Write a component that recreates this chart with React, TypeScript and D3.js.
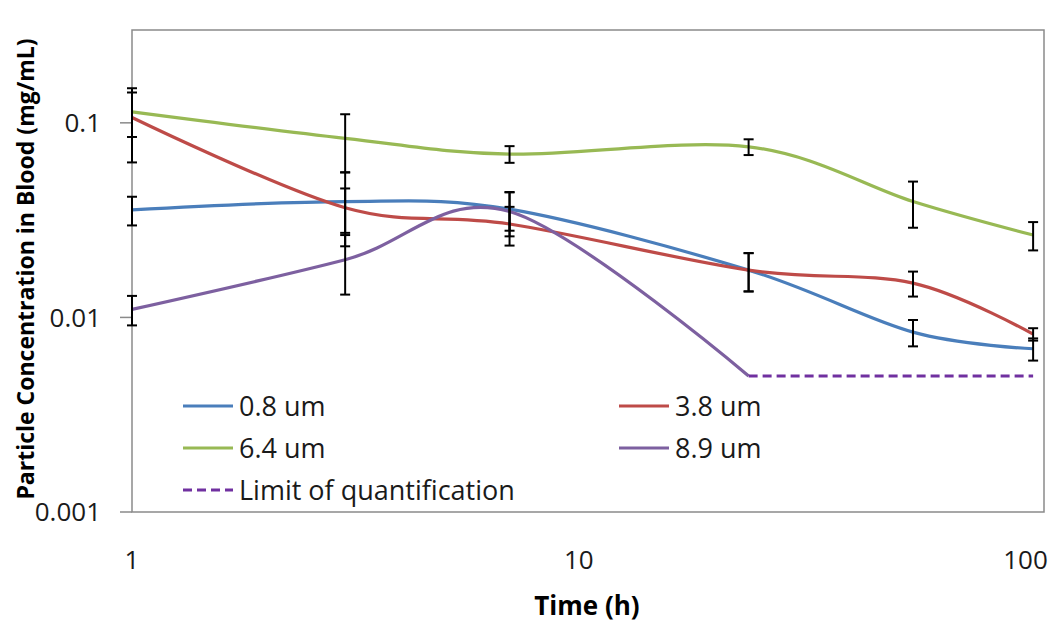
import * as d3 from "d3"

const times = [1, 3, 7, 24, 56, 104]
const purpleTimes = [1, 3, 7, 24]
const loqTimes = [24, 104]

const um08 = [0.0357, 0.0394, 0.036, 0.0175, 0.0084, 0.0069]
const um08Err = [0.006, 0.0162, 0.0081, 0.0039, 0.0013, 0.0009]
const um38 = [0.1066, 0.0366, 0.0302, 0.0175, 0.015, 0.0082]
const um38Err = [0.044, 0.0094, 0.0068, 0.0039, 0.0022, 0.0006]
const um64 = [0.1139, 0.0832, 0.0691, 0.0753, 0.0394, 0.0265]
const um64Err = [0.0293, 0.0275, 0.0068, 0.007, 0.0105, 0.0044]
const um89 = [0.011, 0.0198, 0.035, 0.005]
const um89Err = [0.0019, 0.0067, 0.0089, 0]
const loq = [0.005, 0.005]

const yTicks = [0.1, 0.01, 0.001]
const xTicks = [1, 10, 100]

const W = 1051
const H = 625
const left = 132
const right = 1044
const top = 30
const bottom = 512

const font = "'Open Sans', Lato, sans-serif"

const series = [
  { name: "0.8 um", color: "#4A7EBB", t: times, v: um08, e: um08Err },
  { name: "3.8 um", color: "#BE4B48", t: times, v: um38, e: um38Err },
  { name: "6.4 um", color: "#98B954", t: times, v: um64, e: um64Err },
  { name: "8.9 um", color: "#7D60A0", t: purpleTimes, v: um89, e: um89Err },
]

// legend: two columns, like the Excel one
const legend = [
  { name: "0.8 um", color: "#4A7EBB", col: 0, row: 0, dash: false },
  { name: "3.8 um", color: "#BE4B48", col: 1, row: 0, dash: false },
  { name: "6.4 um", color: "#98B954", col: 0, row: 1, dash: false },
  { name: "8.9 um", color: "#7D60A0", col: 1, row: 1, dash: false },
  { name: "Limit of quantification", color: "#7030A0", col: 0, row: 2, dash: true },
]

export default function App() {
  const x = d3.scaleLog().domain([1, 110]).range([left, right])
  const y = d3.scaleLog().domain([0.001, 0.3]).range([bottom, top])

  const smooth = d3
    .line<[number, number]>()
    .x((d) => x(d[0]))
    .y((d) => y(d[1]))
    .curve(d3.curveCardinal.tension(0))

  const straight = d3
    .line<[number, number]>()
    .x((d) => x(d[0]))
    .y((d) => y(d[1]))

  return (
    <svg
      width={W}
      height={H}
      style={{ position: "absolute", left: 0, top: 0, background: "#fff" }}
      fontFamily={font}
    >
      <rect x={0} y={0} width={W} height={H} fill="#fff" />

      {/* plot frame */}
      <rect
        x={left}
        y={top}
        width={right - left}
        height={bottom - top}
        fill="none"
        stroke="#8a8a8a"
        strokeWidth={1.5}
      />

      {/* y axis ticks */}
      {yTicks.map((t) => (
        <g key={t}>
          <line x1={120} x2={left} y1={y(t)} y2={y(t)} stroke="#8a8a8a" strokeWidth={1.5} />
          <text x={101} y={y(t)} dy="0.36em" textAnchor="end" fontSize={26} fill="#1a1a1a">
            {t}
          </text>
        </g>
      ))}

      {/* x axis labels */}
      {xTicks.map((t) => (
        <text key={t} x={x(t)} y={560} dy="0.36em" textAnchor="middle" fontSize={26} fill="#1a1a1a">
          {t}
        </text>
      ))}

      <text x={587} y={615} textAnchor="middle" fontSize={26} fontWeight="bold" fill="#000">
        Time (h)
      </text>
      <text
        transform={`translate(34,${(top + bottom) / 2 - 2}) rotate(-90)`}
        textAnchor="middle"
        fontSize={23}
        fontWeight="bold"
        fill="#000"
      >
        Particle Concentration in Blood (mg/mL)
      </text>

      {/* series lines */}
      {series.map((s) => (
        <path
          key={s.name}
          d={smooth(s.t.map((t, i) => [t, s.v[i]] as [number, number])) || ""}
          fill="none"
          stroke={s.color}
          strokeWidth={3.2}
        />
      ))}

      <path
        d={straight(loqTimes.map((t, i) => [t, loq[i]] as [number, number])) || ""}
        fill="none"
        stroke="#7030A0"
        strokeWidth={3.2}
        strokeDasharray="9,5"
      />

      {/* error bars */}
      {series.map((s) =>
        s.t.map((t, i) => {
          if (!s.e[i]) return null
          const cx = x(t)
          const y1 = y(s.v[i] + s.e[i])
          const y2 = y(s.v[i] - s.e[i])
          return (
            <g key={s.name + t} stroke="#000" strokeWidth={2}>
              <line x1={cx} x2={cx} y1={y1} y2={y2} />
              <line x1={cx - 5} x2={cx + 5} y1={y1} y2={y1} />
              <line x1={cx - 5} x2={cx + 5} y1={y2} y2={y2} />
            </g>
          )
        })
      )}

      {/* legend */}
      {legend.map((l) => {
        const lx = l.col === 0 ? 183 : 619
        const ly = 406 + l.row * 42
        return (
          <g key={l.name}>
            <line
              x1={lx}
              x2={lx + 50}
              y1={ly}
              y2={ly}
              stroke={l.color}
              strokeWidth={3.2}
              strokeDasharray={l.dash ? "9,5" : undefined}
            />
            <text x={lx + 56} y={ly} dy="0.36em" fontSize={27} fill="#1a1a1a">
              {l.name}
            </text>
          </g>
        )
      })}
    </svg>
  )
}
